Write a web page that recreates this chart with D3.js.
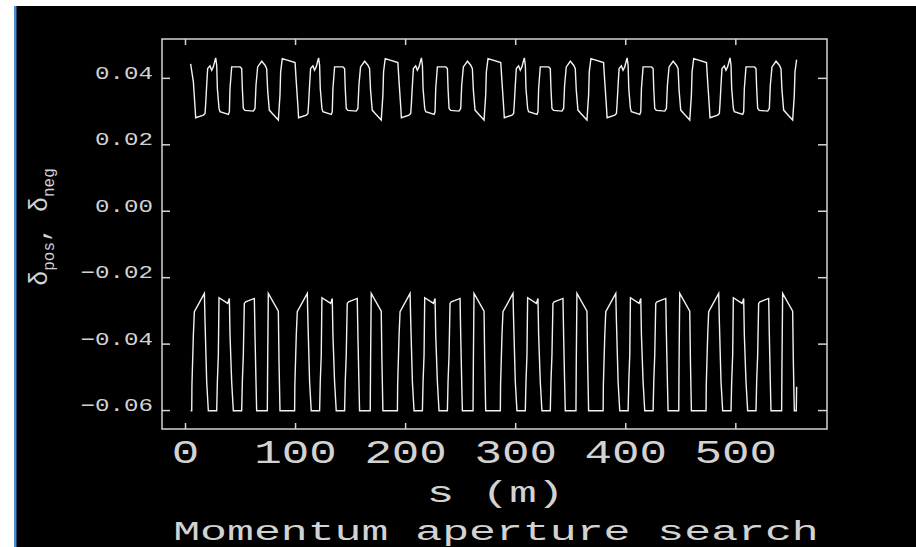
<!DOCTYPE html>
<html>
<head>
<meta charset="utf-8">
<script src="https://cdn.jsdelivr.net/npm/d3@7"></script>
<style>
html, body { margin: 0; padding: 0; background: #000; }
svg { display: block; }
text { font-family: "Liberation Mono", "DejaVu Sans Mono", monospace; fill: #d2d2d2; }
</style>
</head>
<body>
<script>
// axis limits and ticks
const sLimits = [-20.9, 583.3];
const deltaLimits = [-0.0657, 0.0517];
const sTicks = [0, 100, 200, 300, 400, 500];
const deltaTicks = [-0.06, -0.04, -0.02, 0, 0.02, 0.04];

const title = 'Momentum aperture search';
const sLabel = 's (m)';

// positive momentum aperture along s, [s (m), delta]
const deltaPos = [
	[5.1,.0442],[7.6,.0388],[9.1,.0313],[9.7,.0280],[16.7,.0288],[18.2,.0293],[18.8,.0323],[19.7,.0378],[20.6,.0428],[22.7,.0436],[24.2,.0423],[25.7,.0433],[27.3,.0453],[27.9,.0460],[28.8,.0438],[29.4,.0368],[30.9,.0308],[31.8,.0298],[39.4,.0290],[40.3,.0298],[40.9,.0368],[42.4,.0433],[50.0,.0433],[51.5,.0428],[52.1,.0368],[53.0,.0308],[54.5,.0302],[62.1,.0300],[63.6,.0308],[64.5,.0378],[66.0,.0433],[69.7,.0450],[72.7,.0438],[74.2,.0428],[75.1,.0363],[76.6,.0303],[79.3,.0293],[84.8,.0273],[86.3,.0348],[86.9,.0418],[88.4,.0458],
	[100.0,.0446],[101.1,.0388],[102.6,.0313],[103.2,.0280],[110.2,.0288],[111.7,.0293],[112.3,.0323],[113.2,.0378],[114.1,.0428],[116.2,.0436],[117.7,.0423],[119.2,.0433],[120.8,.0453],[121.4,.0460],[122.3,.0438],[122.9,.0368],[124.4,.0308],[125.3,.0298],[132.9,.0290],[133.8,.0298],[134.4,.0368],[135.9,.0433],[143.5,.0433],[145.0,.0428],[145.6,.0368],[146.5,.0308],[148.0,.0302],[155.6,.0300],[157.1,.0308],[158.0,.0378],[159.5,.0433],[163.2,.0450],[166.2,.0438],[167.7,.0428],[168.6,.0363],[170.1,.0303],[172.8,.0293],[178.3,.0273],[179.8,.0348],[180.4,.0418],[181.9,.0458],
	[193.4,.0446],[194.5,.0388],[196.0,.0313],[196.6,.0280],[203.6,.0288],[205.1,.0293],[205.7,.0323],[206.6,.0378],[207.5,.0428],[209.6,.0436],[211.1,.0423],[212.6,.0433],[214.2,.0453],[214.8,.0460],[215.7,.0438],[216.3,.0368],[217.8,.0308],[218.7,.0298],[226.3,.0290],[227.2,.0298],[227.8,.0368],[229.3,.0433],[236.9,.0433],[238.4,.0428],[239.0,.0368],[239.9,.0308],[241.4,.0302],[249.0,.0300],[250.5,.0308],[251.4,.0378],[252.9,.0433],[256.6,.0450],[259.6,.0438],[261.1,.0428],[262.0,.0363],[263.5,.0303],[266.2,.0293],[271.7,.0273],[273.2,.0348],[273.8,.0418],[275.3,.0458],
	[286.9,.0446],[288.0,.0388],[289.5,.0313],[290.1,.0280],[297.1,.0288],[298.6,.0293],[299.2,.0323],[300.1,.0378],[301.0,.0428],[303.1,.0436],[304.6,.0423],[306.1,.0433],[307.7,.0453],[308.3,.0460],[309.2,.0438],[309.8,.0368],[311.3,.0308],[312.2,.0298],[319.8,.0290],[320.7,.0298],[321.3,.0368],[322.8,.0433],[330.4,.0433],[331.9,.0428],[332.5,.0368],[333.4,.0308],[334.9,.0302],[342.5,.0300],[344.0,.0308],[344.9,.0378],[346.4,.0433],[350.1,.0450],[353.1,.0438],[354.6,.0428],[355.5,.0363],[357.0,.0303],[359.7,.0293],[365.2,.0273],[366.7,.0348],[367.3,.0418],[368.8,.0458],
	[380.3,.0446],[381.4,.0388],[382.9,.0313],[383.5,.0280],[390.5,.0288],[392.0,.0293],[392.6,.0323],[393.5,.0378],[394.4,.0428],[396.5,.0436],[398.0,.0423],[399.5,.0433],[401.1,.0453],[401.7,.0460],[402.6,.0438],[403.2,.0368],[404.7,.0308],[405.6,.0298],[413.2,.0290],[414.1,.0298],[414.7,.0368],[416.2,.0433],[423.8,.0433],[425.3,.0428],[425.9,.0368],[426.8,.0308],[428.3,.0302],[435.9,.0300],[437.4,.0308],[438.3,.0378],[439.8,.0433],[443.5,.0450],[446.5,.0438],[448.0,.0428],[448.9,.0363],[450.4,.0303],[453.1,.0293],[458.6,.0273],[460.1,.0348],[460.7,.0418],[462.2,.0458],
	[473.8,.0446],[474.9,.0388],[476.4,.0313],[477.0,.0280],[484.0,.0288],[485.5,.0293],[486.1,.0323],[487.0,.0378],[487.9,.0428],[490.0,.0436],[491.5,.0423],[493.0,.0433],[494.6,.0453],[495.2,.0460],[496.1,.0438],[496.7,.0368],[498.2,.0308],[499.1,.0298],[506.7,.0290],[507.6,.0298],[508.2,.0368],[509.7,.0433],[517.3,.0433],[518.8,.0428],[519.4,.0368],[520.3,.0308],[521.8,.0302],[529.4,.0300],[530.9,.0308],[531.8,.0378],[533.3,.0433],[537.0,.0450],[540.0,.0438],[541.5,.0428],[542.4,.0363],[543.9,.0303],[546.6,.0293],[552.1,.0273],[553.6,.0348],[554.2,.0418],[555.7,.0455]
];

// negative momentum aperture along s, [s (m), delta]
const deltaNeg = [
	[5.1,-.0602],[6.1,-.0602],[6.3,-.0525],[7.6,-.0374],[8.5,-.0304],[17.6,-.0249],[18.2,-.0334],[19.7,-.0515],[21.2,-.0602],[28.8,-.0602],[29.4,-.0515],[30.3,-.0434],[30.9,-.0262],[38.8,-.0279],[40.3,-.0264],[40.9,-.0374],[42.4,-.0515],[43.9,-.0602],[51.5,-.0602],[52.1,-.0515],[53.0,-.0434],[53.9,-.0279],[55.1,-.0274],[63.0,-.0264],[63.6,-.0374],[64.5,-.0515],[65.1,-.0602],[74.8,-.0602],[75.1,-.0455],[75.7,-.0249],[84.8,-.0302],[85.4,-.0450],[86.3,-.0602],
	[99.6,-.0602],[99.8,-.0525],[101.1,-.0374],[102.0,-.0304],[111.1,-.0249],[111.7,-.0334],[113.2,-.0515],[114.7,-.0602],[122.3,-.0602],[122.9,-.0515],[123.8,-.0434],[124.4,-.0262],[132.3,-.0279],[133.8,-.0264],[134.4,-.0374],[135.9,-.0515],[137.4,-.0602],[145.0,-.0602],[145.6,-.0515],[146.5,-.0434],[147.4,-.0279],[148.6,-.0274],[156.5,-.0264],[157.1,-.0374],[158.0,-.0515],[158.6,-.0602],[168.3,-.0602],[168.6,-.0455],[169.2,-.0249],[178.3,-.0302],[178.9,-.0450],[179.8,-.0602],
	[193.0,-.0602],[193.2,-.0525],[194.5,-.0374],[195.4,-.0304],[204.5,-.0249],[205.1,-.0334],[206.6,-.0515],[208.1,-.0602],[215.7,-.0602],[216.3,-.0515],[217.2,-.0434],[217.8,-.0262],[225.7,-.0279],[227.2,-.0264],[227.8,-.0374],[229.3,-.0515],[230.8,-.0602],[238.4,-.0602],[239.0,-.0515],[239.9,-.0434],[240.8,-.0279],[242.0,-.0274],[249.9,-.0264],[250.5,-.0374],[251.4,-.0515],[252.0,-.0602],[261.7,-.0602],[262.0,-.0455],[262.6,-.0249],[271.7,-.0302],[272.3,-.0450],[273.2,-.0602],
	[286.5,-.0602],[286.7,-.0525],[288.0,-.0374],[288.9,-.0304],[298.0,-.0249],[298.6,-.0334],[300.1,-.0515],[301.6,-.0602],[309.2,-.0602],[309.8,-.0515],[310.7,-.0434],[311.3,-.0262],[319.2,-.0279],[320.7,-.0264],[321.3,-.0374],[322.8,-.0515],[324.3,-.0602],[331.9,-.0602],[332.5,-.0515],[333.4,-.0434],[334.3,-.0279],[335.5,-.0274],[343.4,-.0264],[344.0,-.0374],[344.9,-.0515],[345.5,-.0602],[355.2,-.0602],[355.5,-.0455],[356.1,-.0249],[365.2,-.0302],[365.8,-.0450],[366.7,-.0602],
	[379.9,-.0602],[380.1,-.0525],[381.4,-.0374],[382.3,-.0304],[391.4,-.0249],[392.0,-.0334],[393.5,-.0515],[395.0,-.0602],[402.6,-.0602],[403.2,-.0515],[404.1,-.0434],[404.7,-.0262],[412.6,-.0279],[414.1,-.0264],[414.7,-.0374],[416.2,-.0515],[417.7,-.0602],[425.3,-.0602],[425.9,-.0515],[426.8,-.0434],[427.7,-.0279],[428.9,-.0274],[436.8,-.0264],[437.4,-.0374],[438.3,-.0515],[438.9,-.0602],[448.6,-.0602],[448.9,-.0455],[449.5,-.0249],[458.6,-.0302],[459.2,-.0450],[460.1,-.0602],
	[473.4,-.0602],[473.6,-.0525],[474.9,-.0374],[475.8,-.0304],[484.9,-.0249],[485.5,-.0334],[487.0,-.0515],[488.5,-.0602],[496.1,-.0602],[496.7,-.0515],[497.6,-.0434],[498.2,-.0262],[506.1,-.0279],[507.6,-.0264],[508.2,-.0374],[509.7,-.0515],[511.2,-.0602],[518.8,-.0602],[519.4,-.0515],[520.3,-.0434],[521.2,-.0279],[522.4,-.0274],[530.3,-.0264],[530.9,-.0374],[531.8,-.0515],[532.4,-.0602],[542.1,-.0602],[542.4,-.0455],[543.0,-.0249],[552.1,-.0302],[552.7,-.0450],[553.6,-.0602],[555.4,-.0602],[555.7,-.0530]
];

const w = 916;
const h = 547;
const frame = { left: 162, right: 827, top: 39, bottom: 429 };
const lineColor = '#d4d4d4';

const svg = d3.select('body').append('svg')
	.attr('width', w)
	.attr('height', h);

// window edge left over from the screenshot
svg.append('rect').attr('x', 0).attr('y', 0).attr('width', w).attr('height', 6).attr('fill', '#fff');
svg.append('rect').attr('x', 0).attr('y', 0).attr('width', 14).attr('height', h).attr('fill', '#fff');
svg.append('rect').attr('x', 14).attr('y', 6).attr('width', 2.5).attr('height', h - 6).attr('fill', '#4a8fd4');

const x = d3.scaleLinear().domain(sLimits).range([frame.left, frame.right]);
const y = d3.scaleLinear().domain(deltaLimits).range([frame.bottom, frame.top]);

svg.append('rect')
	.attr('x', frame.left)
	.attr('y', frame.top)
	.attr('width', frame.right - frame.left)
	.attr('height', frame.bottom - frame.top)
	.attr('fill', 'none')
	.attr('stroke', lineColor)
	.attr('stroke-width', 1.5);

const fmt = d3.format('.2f');

// left axis with labels, ticks pointing inward
const left = svg.append('g')
	.attr('transform', `translate(${frame.left},0)`)
	.call(d3.axisLeft(y).tickValues(deltaTicks).tickSizeInner(-8).tickSizeOuter(0).tickPadding(9).tickFormat(fmt));
left.selectAll('text')
	.attr('dy', '0.6')
	.style('font-size', '18px')
	.attr('textLength', d => fmt(d).length * 14.5)
	.attr('lengthAdjust', 'spacingAndGlyphs');

svg.append('g')
	.attr('transform', `translate(${frame.right},0)`)
	.call(d3.axisRight(y).tickValues(deltaTicks).tickSizeInner(-9).tickSizeOuter(0).tickFormat(''));

const bottom = svg.append('g')
	.attr('transform', `translate(0,${frame.bottom})`)
	.call(d3.axisBottom(x).tickValues(sTicks).tickSizeInner(-6).tickSizeOuter(0).tickPadding(33.7).tickFormat(d => String(d)));
bottom.selectAll('text')
	.attr('dy', 0)
	.style('font-size', '33px')
	.attr('textLength', d => String(d).length * 27.5)
	.attr('lengthAdjust', 'spacingAndGlyphs');

svg.append('g')
	.attr('transform', `translate(0,${frame.top})`)
	.call(d3.axisTop(x).tickValues(sTicks).tickSizeInner(-6).tickSizeOuter(0).tickFormat(''));

svg.selectAll('.domain').remove();
svg.selectAll('.tick line').attr('stroke', lineColor).attr('stroke-width', 1.5);
svg.selectAll('.tick text').attr('fill', '#d2d2d2').attr('font-family', null);

const line = d3.line()
	.x(d => x(d[0]))
	.y(d => y(d[1]));

svg.append('path')
	.datum(deltaPos)
	.attr('d', line)
	.attr('fill', 'none')
	.attr('stroke', '#f2f2f2')
	.attr('stroke-width', 1.4);

svg.append('path')
	.datum(deltaNeg)
	.attr('d', line)
	.attr('fill', 'none')
	.attr('stroke', '#f2f2f2')
	.attr('stroke-width', 1.4);

const mid = (frame.left + frame.right) / 2;

svg.append('text')
	.attr('x', mid + 1)
	.attr('y', 502)
	.attr('text-anchor', 'middle')
	.style('font-size', '30px')
	.attr('textLength', sLabel.length * 27.5)
	.attr('lengthAdjust', 'spacingAndGlyphs')
	.text(sLabel);

svg.append('text')
	.attr('x', mid + 1.5)
	.attr('y', 539.5)
	.attr('text-anchor', 'middle')
	.style('font-size', '27px')
	.attr('textLength', title.length * 26.9)
	.attr('lengthAdjust', 'spacingAndGlyphs')
	.text(title);

// y label: delta_pos, delta_neg
const yl = svg.append('text')
	.attr('transform', 'translate(47,227) rotate(-90)')
	.attr('text-anchor', 'middle')
	.style('font-size', '25px');
yl.append('tspan').text('δ');
yl.append('tspan').attr('dy', 7).style('font-size', '16px').text('pos');
yl.append('tspan').attr('dy', -7).text(', δ');
yl.append('tspan').attr('dy', 7).style('font-size', '16px').text('neg');
</script>
</body>
</html>
